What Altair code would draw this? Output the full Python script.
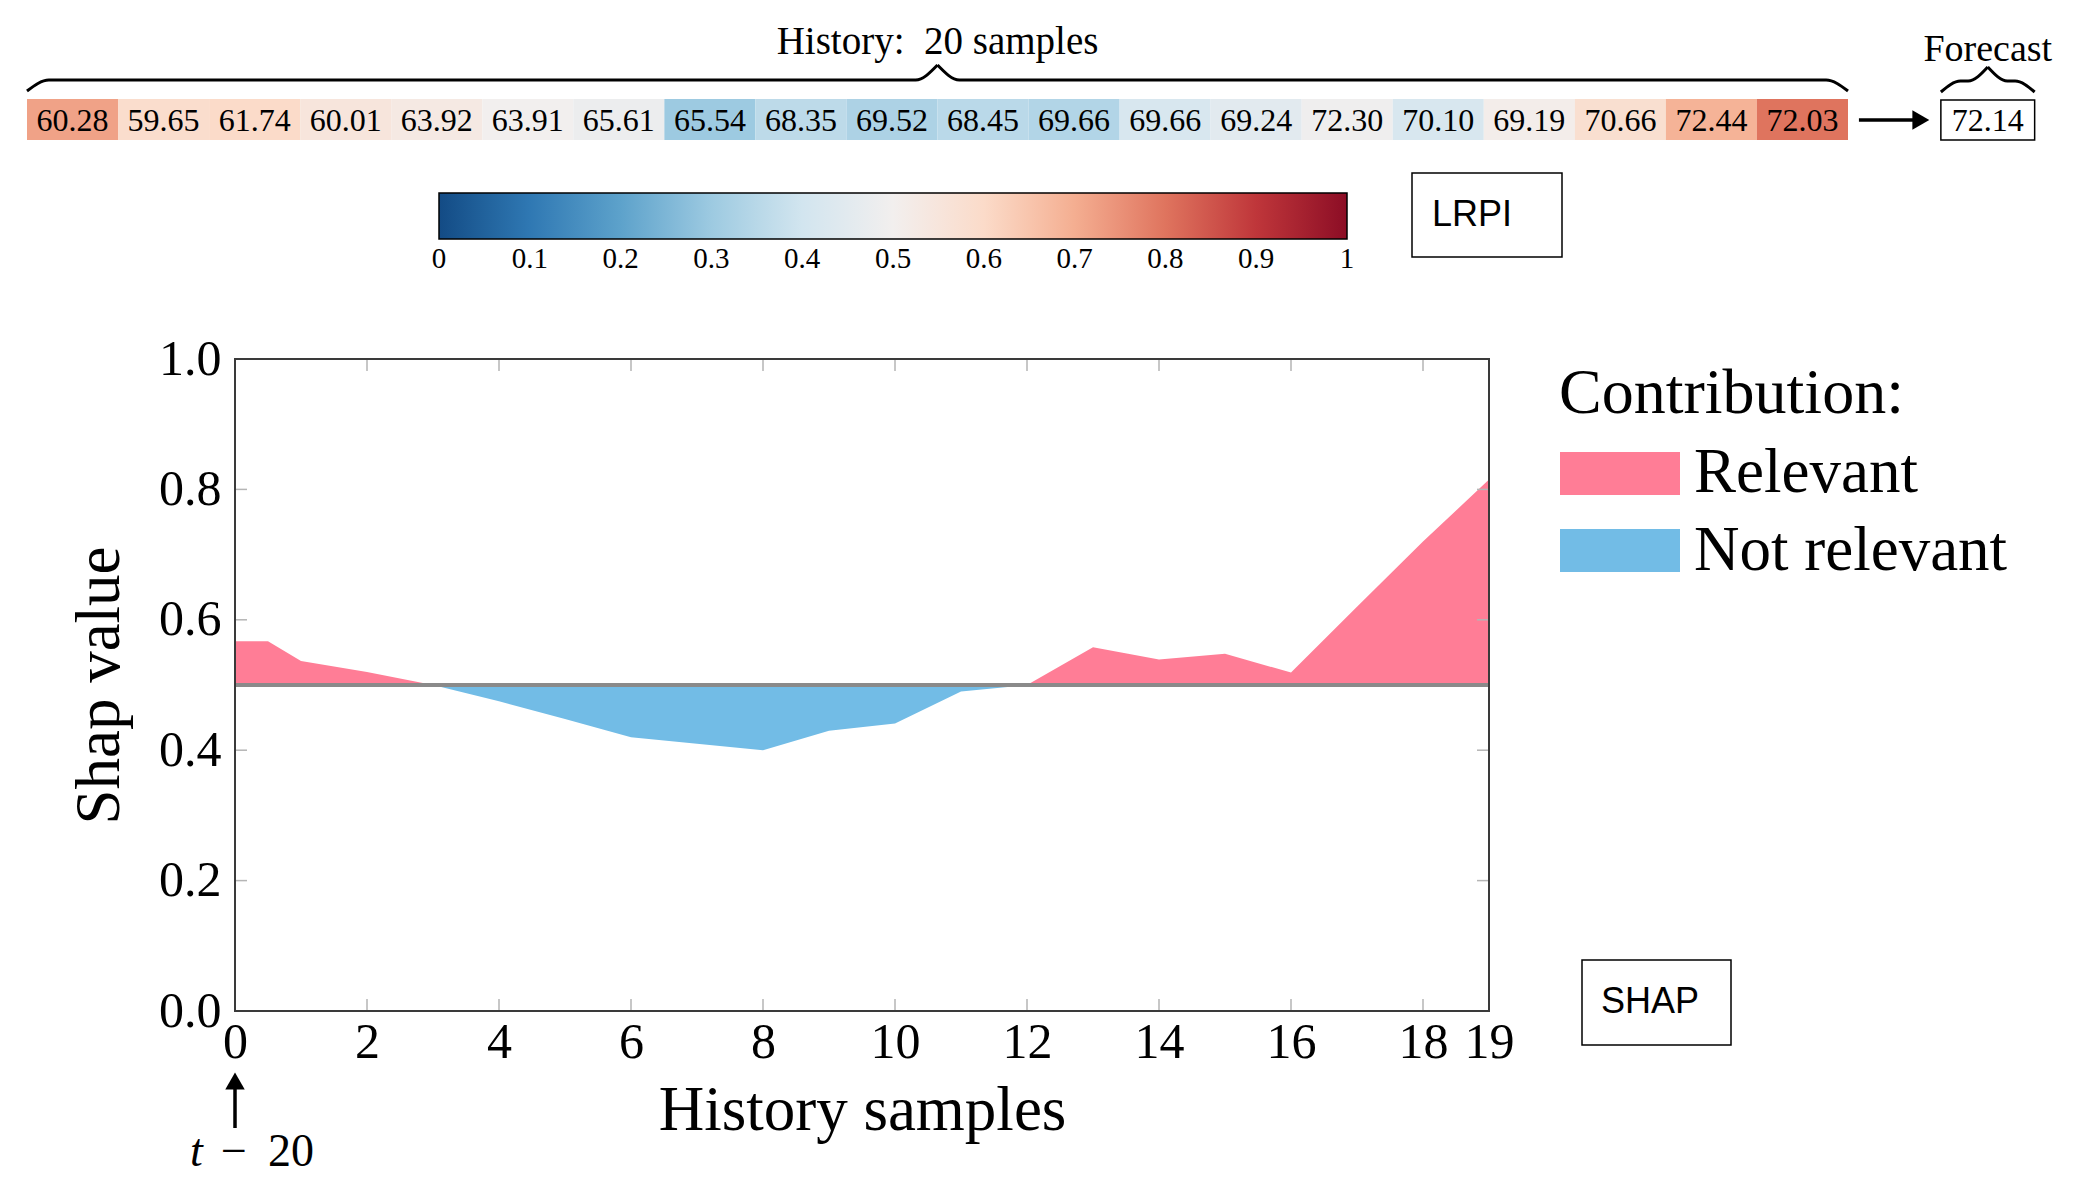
import altair as alt
import pandas as pd

# ---------------- data ----------------
history_values = [60.28, 59.65, 61.74, 60.01, 63.92, 63.91, 65.61, 65.54, 68.35, 69.52,
                  68.45, 69.66, 69.66, 69.24, 72.30, 70.10, 69.19, 70.66, 72.44, 72.03]
lrpi_scores = [0.72, 0.59, 0.60, 0.55, 0.53, 0.50, 0.48, 0.30, 0.36, 0.33,
               0.355, 0.34, 0.42, 0.45, 0.49, 0.42, 0.51, 0.58, 0.69, 0.80]
forecast_value = 72.14

shap_x = [0, 0.5, 1, 2, 3, 4, 5, 6, 7, 8, 9, 10, 11, 12, 13, 14, 15, 16, 17, 18, 19]
shap_values = [0.567, 0.567, 0.537, 0.52, 0.50, 0.475, 0.448, 0.42, 0.41, 0.40, 0.43,
               0.441, 0.49, 0.50, 0.558, 0.539, 0.548, 0.519, 0.62, 0.72, 0.815]
shap_baseline = 0.5

x_tick_values = [0, 2, 4, 6, 8, 10, 12, 14, 16, 18, 19]
y_tick_values = [0.0, 0.2, 0.4, 0.6, 0.8, 1.0]
colorbar_ticks = [0, 0.1, 0.2, 0.3, 0.4, 0.5, 0.6, 0.7, 0.8, 0.9, 1]
colorbar_labels = ["0", "0.1", "0.2", "0.3", "0.4", "0.5", "0.6", "0.7", "0.8", "0.9", "1"]

contrib_cats = ["Relevant", "Not relevant"]
contrib_colors = ["#ff7d96", "#72bce6"]

# ---------------- layout (chart pixels) ----------------
W, H = 2069, 1170
SERIF = "Liberation Serif"
SANS = "Liberation Sans"
PX0, PX1 = 227, 1481      # main plot left/right
PY0, PY1 = 1003, 351      # main plot bottom/top
SX0, SX1 = 19, 1840       # history strip left/right
CB0, CB1 = 431, 1339      # colorbar left/right
CB_T, CB_B = 185, 231     # colorbar top/bottom
CELL_T, CELL_B = 91, 132
N = len(history_values)

# ---------------- main SHAP panel ----------------
xs = alt.Scale(domain=[shap_x[0], shap_x[-1]], range=[PX0, PX1], nice=False, zero=False)
ys = alt.Scale(domain=[0, 1], range=[PY0, PY1], nice=False, zero=False)

rows = []
for xv, v in zip(shap_x, shap_values):
    rows.append({"x": xv, "v": max(v, shap_baseline), "base": shap_baseline, "cat": contrib_cats[0]})
    rows.append({"x": xv, "v": min(v, shap_baseline), "base": shap_baseline, "cat": contrib_cats[1]})
area_df = pd.DataFrame(rows)

contrib_scale = alt.Scale(domain=contrib_cats, range=contrib_colors)

area = alt.Chart(area_df).mark_area(opacity=1).encode(
    x=alt.X("x:Q", scale=xs, axis=alt.Axis(
        orient="bottom", offset=PY0 - H, values=x_tick_values, format="d", ticks=False,
        domain=False, grid=False, labelFont=SERIF, labelFontSize=50, labelPadding=6,
        labelOverlap=False, labelFlush=False, labelColor="black", title="History samples",
        titleFont=SERIF, titleFontSize=63, titleFontWeight="normal", titleColor="black",
        titlePadding=12)),
    y=alt.Y("v:Q", scale=ys, stack=None, axis=alt.Axis(
        orient="left", offset=-PX0, values=y_tick_values, format=".1f", ticks=False,
        domain=False, grid=False, labelFont=SERIF, labelFontSize=50, labelPadding=14,
        labelOverlap=False, labelFlush=False, labelColor="black", title="Shap value",
        titleFont=SERIF, titleFontSize=63, titleFontWeight="normal", titleColor="black",
        titlePadding=27)),
    y2="base:Q",
    color=alt.Color("cat:N", scale=contrib_scale, legend=None),
)

base_df = pd.DataFrame({"x0": [shap_x[0]], "x1": [shap_x[-1]], "y": [shap_baseline]})
baseline = alt.Chart(base_df).mark_rule(color="#8a8a8a", strokeWidth=4).encode(
    x=alt.X("x0:Q", scale=xs), x2="x1:Q", y=alt.Y("y:Q", scale=ys))

frame_df = pd.DataFrame({"x0": [shap_x[0]], "x1": [shap_x[-1]], "y0": [0], "y1": [1]})
frame = alt.Chart(frame_df).mark_rect(fillOpacity=0, stroke="#3a3a3a", strokeWidth=2).encode(
    x=alt.X("x0:Q", scale=xs), x2="x1:Q", y=alt.Y("y0:Q", scale=ys), y2="y1:Q")

inner_x = pd.DataFrame({"t": x_tick_values[1:-1]})
inner_y = pd.DataFrame({"t": y_tick_values[1:-1]})
TL = 12
tick_style = dict(color="#b5b5b5", strokeWidth=1.5)
tb = alt.Chart(inner_x).mark_rule(**tick_style).encode(
    x=alt.X("t:Q", scale=xs), y=alt.value(PY0), y2=alt.value(PY0 - TL))
tt = alt.Chart(inner_x).mark_rule(**tick_style).encode(
    x=alt.X("t:Q", scale=xs), y=alt.value(PY1), y2=alt.value(PY1 + TL))
tlft = alt.Chart(inner_y).mark_rule(**tick_style).encode(
    y=alt.Y("t:Q", scale=ys), x=alt.value(PX0), x2=alt.value(PX0 + TL))
trgt = alt.Chart(inner_y).mark_rule(**tick_style).encode(
    y=alt.Y("t:Q", scale=ys), x=alt.value(PX1), x2=alt.value(PX1 - TL))

start_df = pd.DataFrame({"x": [shap_x[0]]})
arrow_up = alt.Chart(start_df).mark_rule(color="black", strokeWidth=3.5).encode(
    x=alt.X("x:Q", scale=xs), y=alt.value(1120), y2=alt.value(1078))
arrow_up_head = alt.Chart(start_df).mark_point(shape="triangle-up", filled=True, color="black",
                                               size=380, opacity=1).encode(
    x=alt.X("x:Q", scale=xs), y=alt.value(1073))

main = alt.layer(area, baseline, tb, tt, tlft, trgt, frame, arrow_up, arrow_up_head)

# ---------------- history strip ----------------
sx = alt.Scale(domain=[0, N], range=[SX0, SX1], nice=False, zero=False)
cells_df = pd.DataFrame({
    "i": list(range(N)),
    "value": history_values,
    "lrpi": lrpi_scores,
})
cells_df["i1"] = cells_df["i"] + 1
cells_df["xc"] = cells_df["i"] + 0.5

cells = alt.Chart(cells_df).mark_rect().encode(
    x=alt.X("i:Q", scale=sx, axis=None), x2="i1:Q",
    y=alt.value(CELL_T), y2=alt.value(CELL_B),
    color=alt.Color("lrpi:Q", scale=alt.Scale(scheme="redblue", reverse=True, domain=[0, 1]),
                    legend=alt.Legend(orient="none", legendX=CB0, legendY=CB_T,
                                      direction="horizontal", gradientLength=CB1 - CB0,
                                      gradientThickness=CB_B - CB_T, title=None,
                                      labelExpr="''", gradientStrokeColor="black",
                                      gradientStrokeWidth=1.5, padding=0)),
)
cell_text = alt.Chart(cells_df).mark_text(font=SERIF, fontSize=32, color="black",
                                          baseline="middle").encode(
    x=alt.X("xc:Q", scale=sx), y=alt.value((CELL_T + CELL_B) / 2 + 1),
    text=alt.Text("value:Q", format=".2f"))

F0, F1 = N + 1.02, N + 2.05
fc_df = pd.DataFrame({"x0": [F0], "x1": [F1], "xc": [(F0 + F1) / 2], "value": [forecast_value]})
fc_box = alt.Chart(fc_df).mark_rect(fill="white", stroke="black", strokeWidth=1.5).encode(
    x=alt.X("x0:Q", scale=sx), x2="x1:Q", y=alt.value(CELL_T + 1), y2=alt.value(CELL_B))
fc_text = alt.Chart(fc_df).mark_text(font=SERIF, fontSize=32, color="black",
                                     baseline="middle").encode(
    x=alt.X("xc:Q", scale=sx), y=alt.value((CELL_T + CELL_B) / 2 + 1),
    text=alt.Text("value:Q", format=".2f"))
fc_label = alt.Chart(fc_df).mark_text(font=SERIF, fontSize=38, color="black",
                                      baseline="middle").encode(
    x=alt.X("xc:Q", scale=sx), y=alt.value(42), text=alt.value("Forecast"))

arr_df = pd.DataFrame({"a0": [N + 0.12], "a1": [N + 0.76], "ah": [N + 0.80]})
arrow_r = alt.Chart(arr_df).mark_rule(color="black", strokeWidth=3.5).encode(
    x=alt.X("a0:Q", scale=sx), x2="a1:Q", y=alt.value(112))
arrow_r_head = alt.Chart(arr_df).mark_point(shape="triangle-right", filled=True, color="black",
                                            size=380, opacity=1).encode(
    x=alt.X("ah:Q", scale=sx), y=alt.value(112))

def brace(x0, x1, y_end, y_mid, y_tip, curl, name):
    xm = (x0 + x1) / 2
    pts = [
        (x0, y_end, "L"), (x0 + curl, y_mid, "L"), (xm - curl, y_mid, "L"), (xm, y_tip, "L"),
        (xm, y_tip, "R"), (xm + curl, y_mid, "R"), (x1 - curl, y_mid, "R"), (x1, y_end, "R"),
    ]
    return pd.DataFrame([{"bx": p[0], "by": p[1], "half": name + p[2]} for p in pts])

brace_df = pd.concat([
    brace(0, N, 83, 72, 57, 0.24, "h"),
    brace(F0, F1, 84, 73, 59, 0.3, "f"),
])
py = alt.Scale(domain=[0, H], range=[0, H], nice=False, zero=False)
braces = alt.Chart(brace_df).mark_line(color="black", strokeWidth=3, interpolate="monotone").encode(
    x=alt.X("bx:Q", scale=sx), y=alt.Y("by:Q", scale=py, axis=None), detail="half:N")

hist_label = alt.Chart(pd.DataFrame({"c": [N / 2]})).mark_text(
    font=SERIF, fontSize=39, color="black", baseline="middle").encode(
    x=alt.X("c:Q", scale=sx), y=alt.value(34),
    text=alt.value(f"History:\u2002{N} samples"))

strip = alt.layer(cells, cell_text, fc_box, fc_text, fc_label, arrow_r, arrow_r_head,
                  braces, hist_label)

# ---------------- colorbar labels and faint separators ----------------
cb_df = pd.DataFrame({"v": colorbar_ticks, "lab": colorbar_labels})
cbx = alt.Scale(domain=[0, 1], range=[CB0, CB1], nice=False, zero=False)
cb_text = alt.Chart(cb_df).mark_text(font=SERIF, fontSize=29, color="black",
                                     baseline="middle").encode(
    x=alt.X("v:Q", scale=cbx, axis=None), y=alt.value(251), text="lab:N")
cb_sep = alt.Chart(pd.DataFrame({"v": colorbar_ticks[1:-1]})).mark_rule(
    color="black", opacity=0.1, strokeWidth=1).encode(
    x=alt.X("v:Q", scale=cbx, axis=None), y=alt.value(CB_T + 1), y2=alt.value(CB_B - 1))
cbar = alt.layer(cb_sep, cb_text)

# ---------------- legend for contributions ----------------
leg_df = pd.DataFrame({"cat": contrib_cats})
leg_y = alt.Scale(domain=contrib_cats, range=[444, 564], paddingInner=0.4416, paddingOuter=0)
leg_rect = alt.Chart(leg_df).mark_rect().encode(
    x=alt.value(1552), x2=alt.value(1672),
    y=alt.Y("cat:N", scale=leg_y, axis=None),
    color=alt.Color("cat:N", scale=contrib_scale, legend=None))
leg_text = alt.Chart(leg_df).mark_text(font=SERIF, fontSize=63, color="black", align="left",
                                       baseline="middle").encode(
    x=alt.value(1686), y=alt.Y("cat:N", scale=leg_y, axis=None), text="cat:N")
leg = alt.layer(leg_rect, leg_text)

def label(txt, x, y, size, font=SERIF, align="left", style="normal"):
    return alt.Chart(pd.DataFrame({"t": [txt]})).mark_text(
        font=font, fontSize=size, color="black", align=align, baseline="middle",
        fontStyle=style).encode(x=alt.value(x), y=alt.value(y), text="t:N")

def box(x0, x1, y0, y1):
    return alt.Chart(pd.DataFrame({"b": [0]})).mark_rect(
        fill="white", stroke="black", strokeWidth=1.5).encode(
        x=alt.value(x0), x2=alt.value(x1), y=alt.value(y0), y2=alt.value(y1))

contrib_title = label("Contribution:", 1551, 386, 64)
lrpi_box = box(1404, 1554, 165, 249)
lrpi_txt = label("LRPI", 1424, 207, 36, font=SANS)
shap_box = box(1574, 1723, 952, 1037)
shap_txt = label("SHAP", 1593, 994, 36, font=SANS)
T_Y = 1144
t_txt = label("t", 182, T_Y, 46, style="italic")
t_minus = label("−", 226, T_Y, 46, align="center")
t_num = label("20", 306, T_Y, 46, align="right")

chart = alt.layer(
    main, strip, cbar, leg, contrib_title, lrpi_box, lrpi_txt, shap_box, shap_txt,
    t_txt, t_minus, t_num
).resolve_scale(
    x="independent", y="independent", color="independent"
).properties(
    width=W, height=H, padding=0, autosize=alt.AutoSizeParams(type="none"),
    background="white",
).configure_view(stroke=None)

chart.save("out.html", embed_options={"renderer": "svg", "actions": False})
